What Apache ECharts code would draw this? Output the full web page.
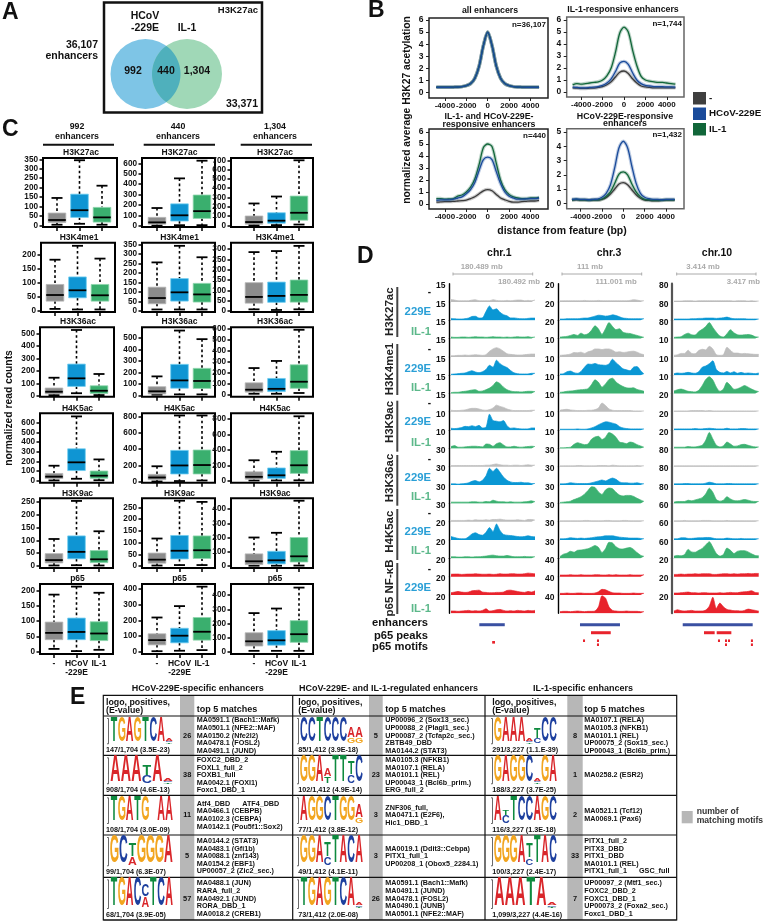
<!DOCTYPE html>
<html>
<head>
<meta charset="utf-8">
<title>Enhancer figure</title>
<script src="https://cdn.jsdelivr.net/npm/echarts@6/dist/echarts.min.js"></script>
<style>
  html, body { margin: 0; padding: 0; background: #fff; }
  #chart { width: 767px; height: 922px; }
</style>
</head>
<body>
<div id="chart"></div>
<script>
// panel B: average profiles
const profileX = [-4800,-4400,-4000,-3600,-3200,-2800,-2400,-2000,-1600,-1200,-800,-400,0,400,800,1200,1600,2000,2400,2800,3200,3600,4000,4400,4800];
const allCtrl = [.45,.45,.45,.45,.46,.47,.5,.58,.75,1.2,2.2,3.9,5.0,3.9,2.2,1.2,.75,.58,.5,.47,.46,.45,.45,.45,.45];
const allIl1 = [.45,.45,.45,.45,.46,.47,.5,.58,.75,1.2,2.2,3.9,5.0,3.9,2.2,1.2,.75,.58,.5,.47,.46,.45,.45,.45,.45];
const allHcov = [.45,.45,.45,.45,.46,.47,.5,.58,.75,1.2,2.2,3.9,5.0,3.9,2.2,1.2,.75,.58,.5,.47,.46,.45,.45,.45,.45];
const il1RespCtrl = [.35,.33,.3,.3,.32,.33,.38,.45,.6,.85,1.25,1.65,1.75,1.55,1.1,.75,.5,.42,.38,.35,.35,.35,.35,.35,.35];
const il1RespIl1 = [.6,.7,.65,.7,.75,.8,.85,1.0,1.35,2.0,3.3,4.9,5.4,5.0,3.5,2.2,1.3,1.0,.9,.85,.8,.8,.75,.7,.65];
const il1RespHcov = [.4,.38,.35,.35,.38,.4,.45,.55,.75,1.1,1.7,2.4,2.55,2.3,1.6,1.0,.7,.55,.5,.45,.45,.45,.42,.42,.4];
const bothCtrl = [.15,.18,.2,.2,.22,.25,.28,.32,.45,.6,.85,1.1,1.2,1.1,.8,.5,.35,.22,.15,.15,.2,.22,.25,.25,.3];
const bothIl1 = [.45,.45,.4,.42,.45,.65,.75,1.0,1.4,2.1,3.3,4.7,5.0,4.8,3.4,2.0,1.2,.8,.6,.5,.45,.45,.5,.5,.55];
const bothHcov = [.3,.35,.35,.35,.4,.5,.6,.85,1.2,1.8,2.8,3.7,3.9,3.7,2.7,1.7,1.0,.65,.5,.4,.4,.42,.45,.45,.5];
const hcovRespCtrl = [.22,.25,.22,.22,.2,.22,.22,.28,.4,.65,1.0,1.35,1.45,1.3,.95,.6,.35,.22,.2,.18,.18,.2,.22,.22,.22];
const hcovRespIl1 = [.25,.28,.25,.25,.22,.25,.25,.3,.5,.8,1.4,2.05,2.2,2.0,1.35,.8,.45,.28,.25,.22,.22,.22,.25,.25,.25];
const hcovRespHcov = [.28,.3,.28,.28,.25,.28,.3,.42,.7,1.3,2.5,3.9,4.35,3.9,2.6,1.4,.7,.42,.32,.28,.28,.25,.28,.28,.28];
const profileTicksX = [-4000,-2000,0,2000,4000];
const profileTicks6 = [0,1,2,3,4,5,6];
const profileTicks5 = [0,1,2,3,4,5];
const legendNames = ['-','HCoV-229E','IL-1'];

// panel C: boxes as [low, q1, median, q3, high], one row per mark, three boxes each
const markNames = ['H3K27ac','H3K4me1','H3K36ac','H4K5ac','H3K9ac','p65'];
const boxNames = ['-','HCoV\n-229E','IL-1'];
const box992 = [
  [[3,15,28,65,145],[8,42,80,165,345],[3,17,42,95,210]],
  [[5,33,55,93,182],[3,45,72,120,232],[3,33,54,93,186]],
  [[5,15,32,62,145],[20,75,140,255,530],[5,18,40,80,175]],
  [[3,22,42,75,155],[20,105,190,330,665],[5,25,52,100,220]],
  [[2,12,23,48,105],[3,28,55,117,253],[2,13,26,60,135]],
  [[10,40,62,97,186],[3,40,65,110,212],[7,37,60,98,192]]
];
const box440 = [
  [[2,15,32,80,170],[5,45,100,210,455],[5,70,140,295,625]],
  [[8,38,68,125,255],[8,52,98,170,342],[8,47,87,145,282]],
  [[5,12,35,75,165],[8,62,130,270,565],[8,60,125,235,490]],
  [[3,25,52,90,190],[8,95,200,385,815],[15,95,205,390,815]],
  [[2,12,27,55,117],[4,30,65,130,278],[4,32,67,128,273]],
  [[5,45,75,115,218],[8,58,103,150,290],[12,75,128,218,413]]
];
const box1304 = [
  [[2,12,35,100,235],[2,22,50,135,310],[8,55,135,315,700]],
  [[8,38,68,137,285],[5,42,73,140,290],[8,43,78,150,315]],
  [[5,20,42,105,240],[5,25,50,145,305],[12,55,115,270,590]],
  [[3,20,50,115,265],[3,30,70,165,375],[5,95,200,390,835]],
  [[2,10,33,85,200],[2,15,40,103,233],[3,28,68,200,458]],
  [[8,42,75,135,273],[8,48,82,150,305],[8,68,125,220,452]]
];
const ticks992 = [[0,50,100,150,200,250,300,350],[0,50,100,150,200],[0,100,200,300,400,500],[0,100,200,300,400,500,600],[0,50,100,150,200,250],[0,50,100,150,200]];
const ticks440 = [[0,100,200,300,400,500,600],[0,50,100,150,200,250,300,350],[0,100,200,300,400,500],[0,200,400,600,800],[0,50,100,150,200,250],[0,100,200,300,400]];
const ticks1304 = [[0,100,200,300,400,500,600,700],[0,50,100,150,200,250,300],[0,100,200,300,400,500,600],[0,200,400,600,800],[0,100,200,300,400],[0,100,200,300,400]];

// panel D: signal as percent of the row's axis label, 25 bins across the window
const chr1Limits = [15,15,15,15,15,15,15,10,10,30,30,30,30,20,20,20,20,20];
const chr3Limits = [20,20,20,10,10,10,10,10,10,30,30,30,30,30,30,40,40,40];
const chr10Limits = [80,80,80,10,10,10,20,20,20,80,80,80,60,60,60,20,20,20];
const chr1Tracks = [
  [15,12,8,8,8,8,12,14,8,8,8,8,14,10,8,8,10,8,10,12,12,8,10,8,12],
  [12,10,8,8,10,14,24,25,14,16,55,90,65,72,50,35,28,15,15,12,10,10,12,14,14],
  [10,8,8,10,10,8,10,12,10,10,8,10,12,10,10,8,10,8,10,12,10,10,12,8,10],
  [8,8,10,10,12,10,12,14,12,10,14,35,50,58,50,35,20,16,14,12,12,14,16,18,18],
  [6,8,10,12,14,22,28,20,16,22,36,62,50,94,72,58,48,30,15,10,8,8,8,12,12],
  [6,8,8,12,14,18,22,24,14,16,24,34,50,73,62,40,24,16,12,12,10,12,14,14,12],
  [10,8,8,10,12,18,22,22,18,12,10,14,24,42,34,28,18,12,8,8,8,8,8,10,10],
  [12,10,12,16,24,22,28,22,30,14,18,100,60,56,52,60,28,12,14,10,8,8,8,14,14],
  [12,18,8,8,10,12,14,14,12,10,28,26,14,30,36,22,10,10,14,10,8,10,12,14,12],
  [8,8,8,8,8,8,8,8,8,8,10,10,14,18,12,10,10,8,10,10,8,10,12,10,10],
  [8,8,6,8,10,14,24,28,20,30,58,105,85,105,80,50,30,20,16,16,18,14,14,10,10],
  [8,8,8,8,8,8,10,10,8,8,12,10,20,14,10,10,8,10,8,8,8,10,12,16,10],
  [8,8,8,8,8,10,8,12,10,10,12,10,14,14,16,12,10,10,10,12,10,8,14,14,10],
  [22,16,10,8,8,20,38,45,34,30,48,78,52,100,60,35,30,28,25,22,20,22,26,22,20],
  [10,10,8,8,10,10,8,10,10,12,14,18,20,16,14,14,18,14,10,10,10,12,10,10,10],
  [15,16,16,14,15,16,16,18,16,15,15,16,14,15,18,16,16,18,18,16,16,18,22,20,18],
  [14,18,22,18,16,18,26,28,30,18,16,14,14,16,16,18,28,30,26,22,18,16,22,18,26],
  [14,14,12,14,16,18,14,16,14,18,28,14,16,22,24,18,14,16,14,18,16,14,18,16,18]
];
const chr3Tracks = [
  [8,8,8,8,8,8,8,10,8,8,8,10,8,8,8,8,8,8,8,8,10,14,12,8,8],
  [8,8,10,10,10,10,12,14,14,20,26,32,30,26,28,34,30,22,14,12,10,10,10,10,10],
  [10,12,14,20,26,20,34,24,30,52,80,60,26,62,100,76,56,62,40,34,32,26,20,14,8],
  [10,12,14,18,28,26,30,22,32,38,50,50,46,50,50,42,30,32,28,30,34,36,30,20,14],
  [8,10,22,26,16,12,24,50,70,68,74,66,64,62,70,100,78,60,40,34,28,50,54,30,8],
  [8,10,14,16,18,22,24,26,30,56,86,70,40,60,88,96,72,56,44,36,34,36,26,20,14],
  [10,14,16,12,10,8,8,8,10,10,14,24,55,40,18,10,8,8,8,8,8,6,6,6,6],
  [6,6,6,6,6,8,6,6,8,14,22,34,44,52,50,44,38,22,14,10,8,8,8,8,8],
  [4,4,6,8,26,36,30,24,28,58,72,76,56,70,100,90,70,40,36,30,40,36,24,16,8],
  [6,6,6,6,6,8,8,6,6,6,6,8,8,8,6,10,8,6,6,6,6,6,8,6,6],
  [8,8,10,14,12,10,10,10,10,14,20,26,32,26,36,44,36,20,14,14,12,12,14,10,8],
  [6,8,10,14,24,32,42,58,80,104,100,72,56,84,96,92,70,52,46,50,50,44,32,22,12],
  [6,6,6,6,6,6,6,8,8,6,6,6,6,8,8,6,6,6,8,8,6,6,6,6,6],
  [8,8,10,14,12,10,12,10,12,14,18,20,22,26,26,26,22,18,16,14,12,12,12,10,8],
  [12,26,32,44,38,50,52,56,60,70,80,68,36,60,100,96,72,60,58,64,68,56,36,20,12],
  [10,10,10,12,10,10,12,10,10,10,12,12,10,10,12,10,12,10,10,10,12,10,10,10,12],
  [10,10,12,10,10,12,12,10,10,10,12,20,35,32,22,14,12,12,10,10,10,12,10,10,10],
  [10,12,12,10,12,14,12,10,12,12,14,40,110,95,40,18,14,12,12,14,12,12,12,10,10]
];
const chr10Tracks = [
  [6,6,6,8,8,8,6,8,8,8,8,8,8,8,8,8,8,6,8,8,8,6,8,6,6],
  [8,8,8,8,8,10,10,12,12,14,14,14,12,14,16,20,14,10,10,10,10,8,8,8,8],
  [8,10,12,26,34,24,22,44,58,76,100,70,40,16,10,30,56,36,24,22,24,26,22,12,10],
  [10,14,22,22,42,22,20,40,48,44,66,50,14,10,14,60,42,24,24,20,22,20,18,16,16],
  [10,14,12,14,18,14,12,22,50,58,72,90,36,18,14,24,14,22,12,18,12,14,12,10,14],
  [16,24,28,22,14,12,10,20,50,88,105,85,40,14,28,70,50,26,30,40,50,40,28,18,12],
  [6,6,6,6,6,8,8,8,8,6,8,6,6,6,6,6,6,6,6,6,6,6,6,6,6],
  [8,8,8,8,8,8,10,8,8,10,12,10,8,8,8,12,8,8,8,10,10,8,8,8,8],
  [8,8,8,8,12,10,10,14,20,52,100,60,20,10,16,40,28,14,16,24,26,20,14,10,10],
  [6,6,6,6,6,6,6,6,6,6,6,6,6,6,6,6,6,6,6,6,6,6,6,6,6],
  [8,8,8,10,10,8,8,8,8,12,18,14,8,8,8,10,10,8,8,8,8,8,8,8,8],
  [8,12,12,12,20,16,22,28,36,60,95,70,24,14,20,42,28,18,16,20,24,20,14,12,12],
  [6,6,6,8,6,6,6,6,8,8,8,6,6,6,6,8,6,6,6,6,6,6,6,6,6],
  [8,8,14,14,10,10,12,14,14,16,16,12,8,8,8,12,10,8,8,10,8,8,8,8,8],
  [14,18,16,24,56,40,38,50,62,84,104,70,30,14,24,64,50,30,44,48,48,40,28,18,16],
  [14,14,16,14,16,16,18,16,18,18,18,14,14,16,18,18,16,18,16,18,18,20,18,20,20],
  [12,12,14,16,18,14,14,12,14,14,12,12,12,14,12,14,16,14,14,18,20,22,26,16,14],
  [14,22,16,14,16,18,14,14,14,20,44,100,30,64,40,24,20,16,16,14,18,26,22,18,14]
];
// annotations under the tracks: [start %, end %, level] (0 enhancer, 1 p65 peak, 2 and 2.5 motif)
const chr1Marks = [[33.7,64,0],[49,52.4,2.2]];
const chr3Marks = [[23.8,71.4,0],[36.9,60.4,1],[27.4,29.8,2],[44,46.4,2],[44,46.4,2.5]];
const chr10Marks = [[10.3,92.9,0],[35.4,48,1],[50.4,67.7,1],[51.9,54.3,2],[60.2,62.6,2],[60.2,62.6,2.5],[63.7,66.1,2],[90.8,93.2,2],[90.8,93.2,2.5]];
const trackSides = ['-','229E','IL-1'];
const trackGroups = ['H3K27ac','H3K4me1','H3K9ac','H3K36ac','H4K5ac','p65 NF-\u03baB'];

// panel E: text of the motif table
const tiny = [['T',.05],['C',.05],['A',.09]];
const logosSpecific = [
  ['T','G','A','G','T','C','A',tiny],
  ['A','A','A',[['C',.28],['T',.42]],'A',tiny],
  ['T','G','A','T','G',[],'A','A'],
  ['G','C',[['A',.3],['T',.45]],'G','G','G','A'],
  ['T','G','A','C',[['A',.38],['C',.42]],'T','C','A']
];
const logosShared = [
  ['C','C','T','C','C','C',[['G',.2],['A',.42]],[['G',.2],['A',.42]]],
  ['G','G','A',[['T',.25],['A',.3]],'T','T',[['C',.3],['T',.5]],'C'],
  ['A','G','G','C','T','G','G',[['G',.2],['A',.5]]],
  ['G','G','A',[['C',.28],['T',.52]],'T','A','C','A'],
  ['T','G','A','G','T','C','A',tiny]
];
const logosIl1 = [
  ['G','A','A','A',tiny,[['C',.2],['T',.4]],'C','C'],
  ['G','A','G','G','C',tiny,'G','A'],
  ['A',[['C',.3],['T',.2]],'T','C','C','A','G','C'],
  ['G','G','G','A',[['C',.25],['T',.5]],'T','A','C'],
  ['A','A','A','T','A',tiny]
];
const captionsSpecific = ['147/1,704 (3.5E-23)','908/1,704 (4.6E-13)','108/1,704 (3.0E-09)','99/1,704 (6.3E-07)','68/1,704 (3.9E-05)'];
const captionsShared = ['85/1,412 (3.9E-18)','102/1,412 (4.9E-14)','77/1,412 (3.8E-12)','49/1,412 (4.1E-11)','73/1,412 (2.0E-08)'];
const captionsIl1 = ['291/3,227 (1.1.E-39)','188/3,227 (3.7E-25)','116/3,227 (1.3E-18)','100/3,227 (2.4E-17)','1,099/3,227 (4.4E-16)'];
const countsSpecific = [26,38,11,5,57];
const countsShared = [5,23,3,3,26];
const countsIl1 = [8,1,2,33,7];
const matchesSpecific = [
  ['MA0591.1 (Bach1::Mafk)','MA0501.1 (NFE2::MAF)','MA0150.2 (Nfe2l2)','MA0478.1 (FOSL2)','MA0491.1 (JUND)'],
  ['FOXC2_DBD_2','FOXL1_full_2','FOXB1_full','MA0042.1 (FOXI1)','Foxc1_DBD_1'],
  ['Atf4_DBD      ATF4_DBD','MA0466.1 (CEBPB)','MA0102.3 (CEBPA)','MA0142.1 (Pou5f1::Sox2)'],
  ['MA0144.2 (STAT3)','MA0483.1 (Gfi1b)','MA0088.1 (znf143)','MA0154.2 (EBF1)','UP00057_2 (Zic2_sec.)'],
  ['MA0488.1 (JUN)','RARA_full_2','MA0492.1 (JUND)','RORA_DBD_1','MA0018.2 (CREB1)']
];
const matchesShared = [
  ['UP00096_2 (Sox13_sec.)','UP00088_2 (Plagl1_sec.)','UP00087_2 (Tcfap2c_sec.)','ZBTB49_DBD','MA0144.2 (STAT3)'],
  ['MA0105.3 (NFKB1)','MA0107.1 (RELA)','MA0101.1 (REL)','UP00043_1 (Bcl6b_prim.)','ERG_full_2'],
  ['ZNF306_full,','MA0471.1 (E2F6),','Hic1_DBD_1'],
  ['MA0019.1 (Ddit3::Cebpa)','PITX1_full_1','UP00208_1 (Obox5_2284.1)'],
  ['MA0591.1 (Bach1::Mafk)','MA0491.1 (JUND)','MA0478.1 (FOSL2)','MA0490.1 (JUNB)','MA0501.1 (NFE2::MAF)']
];
const matchesIl1 = [
  ['MA0107.1 (RELA)','MA0105.3 (NFKB1)','MA0101.1 (REL)','UP00075_2 (Sox15_sec.)','UP00043_1 (Bcl6b_prim.)'],
  ['MA0258.2 (ESR2)'],
  ['MA0521.1 (Tcf12)','MA0069.1 (Pax6)'],
  ['PITX1_full_2','PITX3_DBD','PITX1_DBD','MA0101.1 (REL)','PITX1_full_1      GSC_full'],
  ['UP00097_2 (Mtf1_sec.)','FOXC2_DBD_2','FOXC1_DBD_1','UP00073_2 (Foxa2_sec.)','Foxc1_DBD_1']
];

const FONT = '"Liberation Sans", Arial, sans-serif';
const font = (size, weight) => (weight || 'bold') + ' ' + size + 'px ' + FONT;

const grids = [], xAxes = [], yAxes = [], series = [], elements = [];

function addGrid(rect, xAxis, yAxis) {
  grids.push(Object.assign({ containLabel: false }, rect));
  const index = grids.length - 1;
  xAxes.push(Object.assign({ gridIndex: index }, xAxis));
  yAxes.push(Object.assign({ gridIndex: index }, yAxis));
  return index;
}

function label(x, y, text, fontStr, opts) {
  opts = opts || {};
  elements.push({
    type: 'text', x, y, rotation: opts.rotation || 0, silent: true,
    style: {
      text, font: fontStr, fill: opts.fill || '#111',
      textAlign: opts.align || 'left', textVerticalAlign: 'middle',
      lineHeight: opts.lineHeight
    }
  });
}

function box(x, y, width, height, fill, stroke, lineWidth) {
  elements.push({
    type: 'rect', silent: true, shape: { x, y, width, height },
    style: { fill: fill || 'transparent', stroke: stroke || null, lineWidth: lineWidth || 0 }
  });
}

function rule(x1, y1, x2, y2, color, width) {
  elements.push({
    type: 'line', silent: true, shape: { x1, y1, x2, y2 },
    style: { stroke: color, lineWidth: width }
  });
}

// ---- A: venn
const blueCircle = { cx: 145.5, cy: 74, r: 35 };
const greenCircle = { cx: 187, cy: 74, r: 35 };
label(2, 13, 'A', font(23));
box(104, 2.5, 158, 110, 'transparent', '#111', 2.5);
elements.push({ type: 'circle', silent: true, shape: blueCircle, style: { fill: '#7ec5e6' } });
elements.push({ type: 'circle', silent: true, shape: greenCircle, style: { fill: '#a0d8b7' } });
// the overlap is the two circles clipped to each other, walked as one outline
const lensPoints = [];
for (let deg = -54; deg <= 54; deg += 4) {
  lensPoints.push([blueCircle.cx + 35 * Math.cos(deg * Math.PI / 180), blueCircle.cy + 35 * Math.sin(deg * Math.PI / 180)]);
}
for (let deg = 126; deg <= 234; deg += 4) {
  lensPoints.push([greenCircle.cx + 35 * Math.cos(deg * Math.PI / 180), greenCircle.cy + 35 * Math.sin(deg * Math.PI / 180)]);
}
elements.push({ type: 'polygon', silent: true, shape: { points: lensPoints }, style: { fill: '#4fb0bc' } });
label(145, 22, 'HCoV\n-229E', font(10.5), { align: 'center', lineHeight: 12 });
label(187, 28, 'IL-1', font(10.5), { align: 'center' });
label(258, 10, 'H3K27ac', font(9.5), { align: 'right' });
label(98, 51, '36,107\nenhancers', font(10.5), { align: 'right', lineHeight: 11 });
label(133, 71, '992', font(10.5), { align: 'center' });
label(166, 71, '440', font(10.5), { align: 'center' });
label(197, 71, '1,304', font(10.5), { align: 'center' });
label(258, 104, '33,371', font(10.5), { align: 'right' });

// ---- B: profiles
const profilePanels = [
  { title: 'all enhancers', titleX: 490, n: 'n=36,107', rect: [429, 18, 119, 80], zero: 92.7, top: 20, ticks: profileTicks6, zeroX: 487.7, frame: '#222', lines: [allCtrl, allIl1, allHcov] },
  { title: 'IL-1-responsive enhancers', titleX: 623, n: 'n=1,744', rect: [566.7, 17, 117.3, 80], zero: 92, top: 20, ticks: profileTicks6, zeroX: 624, frame: '#666', lines: [il1RespCtrl, il1RespIl1, il1RespHcov] },
  { title: 'IL-1- and HCoV-229E-\nresponsive enhancers', titleX: 489, n: 'n=440', rect: [429, 129, 119, 80], zero: 204, top: 132, ticks: profileTicks6, zeroX: 487.7, frame: '#222', lines: [bothCtrl, bothIl1, bothHcov] },
  { title: 'HCoV-229E-responsive\nenhancers', titleX: 625, n: 'n=1,432', rect: [566.7, 128.7, 117.3, 80], zero: 203.3, top: 132, ticks: profileTicks5, zeroX: 623.3, frame: '#666', lines: [hcovRespCtrl, hcovRespIl1, hcovRespHcov] }
];
const profileColors = ['#3a3a3a', '#116639', '#1a4b9b'];
const tickFont = { color: '#111', fontFamily: FONT, fontWeight: 'bold', fontSize: 8.5 };
const noAxisLine = { show: false, onZero: false };

profilePanels.forEach((p) => {
  const [left, top, width, height] = p.rect;
  const pxPerUnit = (p.zero - p.top) / p.ticks[p.ticks.length - 1];
  const pxPerBp = 10.7 / 1000;
  const idx = addGrid(
    { left, top, width, height, show: true, borderColor: p.frame, borderWidth: 1.5, backgroundColor: 'transparent' },
    {
      type: 'value', min: -(p.zeroX - left) / pxPerBp, max: (left + width - p.zeroX) / pxPerBp,
      splitLine: { show: false }, axisLine: noAxisLine,
      axisTick: { customValues: profileTicksX, length: 3, lineStyle: { color: '#222', width: 1 } },
      axisLabel: Object.assign({}, tickFont, {
        customValues: profileTicksX, margin: 4, fontSize: 8, hideOverlap: false, showMinLabel: true, showMaxLabel: true,
        formatter: (v) => String(v)
      })
    },
    {
      type: 'value', min: -(top + height - p.zero) / pxPerUnit, max: (p.zero - top) / pxPerUnit,
      splitLine: { show: false }, axisLine: noAxisLine,
      axisTick: { customValues: p.ticks, length: 3, lineStyle: { color: '#222', width: 1 } },
      axisLabel: Object.assign({ customValues: p.ticks, margin: 5.5 }, tickFont)
    }
  );
  p.lines.forEach((values, i) => {
    const points = values.map((v, j) => [profileX[j], v]);
    series.push({
      type: 'line', xAxisIndex: idx, yAxisIndex: idx, data: points, showSymbol: false, smooth: .3,
      silent: true, lineStyle: { color: profileColors[i], width: 3.5, opacity: .28 }
    });
    series.push({
      type: 'line', xAxisIndex: idx, yAxisIndex: idx, data: points, showSymbol: false, smooth: .3,
      silent: true, lineStyle: { color: profileColors[i], width: 1.3 }
    });
  });
  label(p.titleX, top - (p.title.indexOf('\n') > 0 ? 8.5 : 7), p.title, font(8.8), { align: 'center', lineHeight: 7.6 });
  label(left + width - 2, top + 6.5, p.n, font(8), { align: 'right' });
});
label(368, 11, 'B', font(23));
label(407, 110, 'normalized average H3K27 acetylation', font(10.3), { align: 'center', rotation: Math.PI / 2 });
label(562, 231, 'distance from feature (bp)', font(10.5), { align: 'center' });
[['#3f3f3f', 92], ['#1a4b9b', 107.5], ['#116639', 123]].forEach((s, i) => {
  box(693, s[1], 13, 12.5, s[0]);
  label(709, s[1] + 6, legendNames[i], font(9.8));
});

// ---- C: boxplots
const boxColumns = [
  { heading: '992\nenhancers', cx: 77, rule: [43, 114], values: box992, ticks: ticks992, lefts: [43, 41, 40, 40, 40, 40], widths: [74, 74, 74, 73, 73, 73], pad: 14,
    zeros: [225.3, 310.3, 395.7, 480.7, 566, 652], tops: [159.3, 254.7, 333.7, 422.7, 501.7, 590.3] },
  { heading: '440\nenhancers', cx: 178, rule: [143.7, 215], values: box440, ticks: ticks440, lefts: [142, 142, 142, 142, 142, 142], widths: [73, 73, 73, 73, 73, 73], pad: 15,
    zeros: [225.7, 311, 395.3, 481.7, 566, 652], tops: [163.3, 244.3, 338, 416.7, 507.3, 588.7] },
  { heading: '1,304\nenhancers', cx: 275, rule: [240.7, 312], values: box1304, ticks: ticks1304, lefts: [231, 231, 231, 231, 231, 231], widths: [82, 82, 82, 82, 82, 82], pad: 23,
    zeros: [225.3, 311, 394.3, 480.7, 566, 652], tops: [160.3, 249, 328.7, 419, 509, 595] }
];
const boxTops = [158, 242.7, 327.3, 413.3, 498.3, 584];
const boxBottoms = [227, 312, 396.7, 482.7, 568, 654];
const boxTitleY = [152.7, 238, 322, 409, 494, 578.7];
const boxStep = 22.5;
const boxFills = ['#8c8c8c', '#0f95d3', '#3aaf6e'];
const boxEdges = ['#b5b5b5', '#6fcdf0', '#8ed6ad'];

function renderBox(params, api) {
  const slot = api.value(0);
  const cx = api.coord([slot, 0])[0];
  const py = (v) => api.coord([slot, v])[1];
  const low = py(api.value(1)), q1 = py(api.value(2)), med = py(api.value(3)), q3 = py(api.value(4)), high = py(api.value(5));
  const halfBox = 8.8, halfCap = 5.5;
  const black = { stroke: '#000', lineWidth: 1.8 };
  const dashed = { stroke: '#000', lineWidth: 1.6, lineDash: [2.6, 2.6] };
  return {
    type: 'group',
    children: [
      { type: 'line', shape: { x1: cx, y1: high, x2: cx, y2: q3 }, style: dashed },
      { type: 'line', shape: { x1: cx, y1: q1, x2: cx, y2: low }, style: dashed },
      { type: 'line', shape: { x1: cx - halfCap, y1: high, x2: cx + halfCap, y2: high }, style: black },
      { type: 'line', shape: { x1: cx - halfCap, y1: low, x2: cx + halfCap, y2: low }, style: black },
      { type: 'rect', shape: { x: cx - halfBox, y: q3, width: halfBox * 2, height: q1 - q3 }, style: { fill: boxFills[slot - 1], stroke: boxEdges[slot - 1], lineWidth: .8 } },
      { type: 'line', shape: { x1: cx - halfBox, y1: med, x2: cx + halfBox, y2: med }, style: black }
    ]
  };
}

boxColumns.forEach((col) => {
  label(col.cx, 132, col.heading, font(8.8), { align: 'center', lineHeight: 10 });
  box(col.rule[0], 143.7, col.rule[1] - col.rule[0], 2, '#111');
  markNames.forEach((mark, r) => {
    const left = col.lefts[r], width = col.widths[r], top = boxTops[r], bottom = boxBottoms[r];
    const ticks = col.ticks[r];
    const pxPerUnit = (col.zeros[r] - col.tops[r]) / ticks[ticks.length - 1];
    const minX = 1 - col.pad / boxStep;
    const idx = addGrid(
      { left, top, width, height: bottom - top, show: true, borderColor: '#000', borderWidth: 2, backgroundColor: 'transparent' },
      {
        type: 'value', min: minX, max: minX + width / boxStep,
        splitLine: { show: false }, axisLine: noAxisLine,
        axisTick: { customValues: [1, 2, 3], length: 4, lineStyle: { color: '#000', width: 1.5 } },
        axisLabel: Object.assign({
          show: r === boxTops.length - 1, customValues: [1, 2, 3], margin: 5, lineHeight: 9,
          formatter: (v) => boxNames[Math.round(v) - 1]
        }, tickFont)
      },
      {
        type: 'value', min: -(bottom - col.zeros[r]) / pxPerUnit, max: (col.zeros[r] - top) / pxPerUnit,
        splitLine: { show: false }, axisLine: noAxisLine,
        axisTick: { customValues: ticks, length: 3.5, lineStyle: { color: '#000', width: 1.5 } },
        axisLabel: Object.assign({}, tickFont, { customValues: ticks, margin: 5, fontSize: 8.2 })
      }
    );
    series.push({
      type: 'custom', xAxisIndex: idx, yAxisIndex: idx, silent: true, clip: false,
      renderItem: renderBox, encode: { x: 0, y: [1, 2, 3, 4, 5] },
      data: col.values[r].map((v, i) => [i + 1].concat(v))
    });
    label(left + width / 2 + (col.pad > 20 ? 3 : 1), boxTitleY[r], mark, font(8.5), { align: 'center' });
  });
});
label(2, 130, 'C', font(23));
label(9.5, 408, 'normalized read counts', font(10.3), { align: 'center', rotation: Math.PI / 2 });

// ---- D: tracks
const trackColumns = [
  { name: 'chr.1', cx: 499.3, left: 451, width: 84, limits: chr1Limits, tracks: chr1Tracks, marks: chr1Marks, spine: '#000', spineWidth: 1.4,
    scale: ['180.489 mb', 481.7, 453, 532.7, '180.492 mb', 540] },
  { name: 'chr.3', cx: 609, left: 560, width: 84, limits: chr3Limits, tracks: chr3Tracks, marks: chr3Marks, spine: '#000', spineWidth: 1.4,
    scale: ['111 mb', 590, 562, 641.7, '111.001 mb', 636.7] },
  { name: 'chr.10', cx: 717, left: 674, width: 84.7, limits: chr10Limits, tracks: chr10Tracks, marks: chr10Marks, spine: '#555', spineWidth: 2.2,
    scale: ['3.414 mb', 703, 676.7, 756, '3.417 mb', 760] }
];
const firstBaseline = 302, rowStep = 18.31, labelHeight = 16;
const trackColors = ['#bdbdbd', '#0a97d4', '#3cb171'];
const trackRed = '#e8232c';
const markLevelColor = (level) => (level === 0 ? '#3a50a2' : '#e8232c');

function renderMark(params, api) {
  const level = api.value(2);
  const a = api.coord([api.value(0), level]);
  const b = api.coord([api.value(1), level]);
  const h = level < 2 ? 3 : 2.6;
  return {
    type: 'rect',
    shape: { x: a[0], y: a[1] - h / 2, width: b[0] - a[0], height: h },
    style: { fill: markLevelColor(level) }
  };
}

trackColumns.forEach((col) => {
  label(col.cx, 253, col.name, font(10.5), { align: 'center' });
  const s = col.scale;
  label(s[1], 267, s[0], font(7.8), { align: 'center', fill: '#aaa' });
  rule(s[2], 274, s[3], 274, '#aaa', 1);
  rule(s[2], 272.5, s[2], 275.5, '#aaa', 1);
  rule(s[3], 272.5, s[3], 275.5, '#aaa', 1);
  label(s[5], 282, s[4], font(7.8), { align: 'right', fill: '#aaa' });

  col.tracks.forEach((values, r) => {
    const limit = col.limits[r];
    const color = r >= 15 ? trackRed : trackColors[r % 3];
    const baseline = firstBaseline + rowStep * r;
    const idx = addGrid(
      { left: col.left, top: baseline - rowStep, width: col.width, height: rowStep },
      { type: 'category', show: false, boundaryGap: false, data: values.map((v, i) => i) },
      {
        type: 'value', min: 0, max: limit * rowStep / labelHeight, offset: 2,
        splitLine: { show: false },
        axisLine: { show: true, onZero: false, lineStyle: { color: col.spine, width: col.spineWidth } },
        axisTick: { customValues: [limit], length: 2, lineStyle: { color: '#000', width: 1 } },
        axisLabel: Object.assign({ customValues: [limit], margin: 3.5 }, tickFont)
      }
    );
    series.push({
      type: 'line', xAxisIndex: idx, yAxisIndex: idx, showSymbol: false, smooth: .25, silent: true,
      data: values.map((v) => v * limit / 100),
      lineStyle: { color, width: .7 }, areaStyle: { color, opacity: 1 }
    });
  });

  const idx = addGrid(
    { left: col.left, top: 618, width: col.width, height: 34 },
    { type: 'value', show: false, min: 0, max: 100 },
    { type: 'value', show: false, min: -.84, max: 3.41, inverse: true }
  );
  series.push({
    type: 'custom', xAxisIndex: idx, yAxisIndex: idx, silent: true, renderItem: renderMark,
    encode: { x: [0, 1], y: 2 }, data: col.marks
  });
});

const sideY = [292, 311.7, 331.7, 349, 369, 387.7, 403, 422, 443, 459, 478, 496.7, 513, 531.7, 551, 569, 587.7, 609];
const sideColors = ['#111', '#2a9fd6', '#5cb88a'];
sideY.forEach((y, i) => {
  const side = i % 3;
  if (side === 0) label(431, y, trackSides[0], font(10), { align: 'right' });
  else label(431, y, trackSides[side], font(11.3), { align: 'right', fill: sideColors[side] });
});
const groupY = [311.7, 369, 422, 478, 531.7, 588];
const groupBars = [[287, 337], [344, 395], [400.7, 451.7], [455, 505.7], [509, 560], [563, 614]];
trackGroups.forEach((name, i) => {
  label(390, groupY[i], name, font(11.5), { align: 'center', rotation: Math.PI / 2, fill: '#222' });
  box(396.3, groupBars[i][0], 2, groupBars[i][1] - groupBars[i][0], '#444');
});
label(428, 623.3, 'enhancers', font(11.2), { align: 'right' });
label(428, 635.7, 'p65 peaks', font(11.2), { align: 'right' });
label(428, 647.3, 'p65 motifs', font(11.2), { align: 'right' });
label(357, 257, 'D', font(23));

// ---- E: motif table
const tableLeft = 103.3, tableRight = 676.7, tableTop = 695.3, tableBottom = 920;
const rowLines = [716, 755.3, 795.3, 835, 877.3, 920];
const tableColumns = [
  { head: 'HCoV-229E-specific enhancers', headX: 197.7, logoX: 110, textX: 106, grey: [180, 194.3], matchX: 196.7, logos: logosSpecific, captions: captionsSpecific, counts: countsSpecific, matches: matchesSpecific },
  { head: 'HCoV-229E- and IL-1-regulated enhancers', headX: 388.5, logoX: 300, textX: 298.3, grey: [369, 382.7], matchX: 385.3, logos: logosShared, captions: captionsShared, counts: countsShared, matches: matchesShared },
  { head: 'IL-1-specific enhancers', headX: 583, logoX: 494, textX: 492.3, grey: [567.3, 582.7], matchX: 584.3, logos: logosIl1, captions: captionsIl1, counts: countsIl1, matches: matchesIl1 }
];
const letterColors = { A: '#d9262a', C: '#1d3f9e', G: '#f2a51f', T: '#0e8a3e' };
const letterFont = 40;

function renderLetter(params, api, letters) {
  const col = api.value(0), base = api.value(1), h = api.value(2);
  const letter = letters[params.dataIndex];
  const lo = api.coord([col, base]);
  const hi = api.coord([col + 1, base + h]);
  const w = hi[0] - lo[0], px = lo[1] - hi[1];
  return {
    type: 'text',
    x: lo[0] + w / 2, y: (lo[1] + hi[1]) / 2,
    scaleX: w / (letterFont * .74), scaleY: px / (letterFont * .72),
    style: {
      text: letter, font: font(letterFont), fill: letterColors[letter],
      textAlign: 'center', textVerticalAlign: 'middle'
    }
  };
}

tableColumns.forEach((col) => {
  box(col.grey[0], tableTop, col.grey[1] - col.grey[0], tableBottom - tableTop, '#b7b7b7');
  label(col.headX, 689, col.head, font(9), { align: 'center' });
  label(col.textX, 706.7, 'logo, positives,\n(E-value)', font(8.8), { lineHeight: 8.2 });
  label(col.matchX, 710, 'top 5 matches', font(9));
  col.logos.forEach((logo, r) => {
    const rowTop = rowLines[r], rowBottom = rowLines[r + 1];
    const cy = (rowTop + rowBottom) / 2;
    const top = rowTop + 2.5, height = rowBottom - rowTop - 14;
    const letters = [], rows = [];
    logo.forEach((stack, i) => {
      const parts = typeof stack === 'string' ? [[stack, 1]] : stack;
      let base = 0;
      parts.forEach((part) => {
        letters.push(part[0]);
        rows.push([i, base, part[1]]);
        base += part[1];
      });
    });
    const idx = addGrid(
      { left: col.logoX, top, width: 63, height },
      { type: 'value', show: false, min: 0, max: logo.length },
      { type: 'value', show: false, min: 0, max: 1 }
    );
    series.push({
      type: 'custom', xAxisIndex: idx, yAxisIndex: idx, silent: true, clip: false,
      renderItem: (params, api) => renderLetter(params, api, letters),
      encode: { x: 0, y: [1, 2] }, data: rows
    });
    rule(col.logoX - 1.5, top, col.logoX - 1.5, top + height, '#444', .8);
    rule(col.logoX - 3, top, col.logoX - 1.5, top, '#444', .8);
    rule(col.logoX - 3, top + height, col.logoX - 1.5, top + height, '#444', .8);
    label(col.textX, rowBottom - 5.3, col.captions[r], font(7.2));
    label((col.grey[0] + col.grey[1]) / 2, cy, String(col.counts[r]), font(7.4), { align: 'center' });
    label(col.matchX, cy, col.matches[r].join('\n'), font(7.2), { lineHeight: 7.6 });
  });
});
rowLines.forEach((y) => rule(tableLeft, y, tableRight, y, '#111', 1.2));
[292.7, 485].forEach((x) => rule(x, tableTop, x, tableBottom, '#111', 1.2));
box(tableLeft, tableTop, tableRight - tableLeft, tableBottom - tableTop, 'transparent', '#111', 1.2);
box(681.7, 811, 11, 12.3, '#b7b7b7');
label(696.7, 816.3, 'number of\nmatching motifs', font(8.6), { lineHeight: 8.4, fill: '#333' });
label(70, 698, 'E', font(23));

const chart = echarts.init(document.getElementById('chart'), null, { renderer: 'canvas' });
chart.setOption({
  animation: false,
  backgroundColor: '#fff',
  grid: grids,
  xAxis: xAxes,
  yAxis: yAxes,
  series,
  graphic: { elements }
});
window.addEventListener('resize', () => chart.resize());
</script>
</body>
</html>
